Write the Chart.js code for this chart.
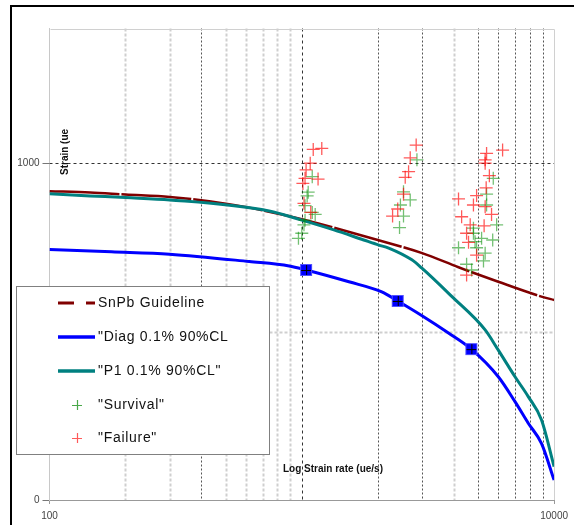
<!DOCTYPE html>
<html>
<head>
<meta charset="utf-8">
<script src="https://cdn.jsdelivr.net/npm/chart.js@4.4.1/dist/chart.umd.min.js"></script>
<style>
  html, body { margin: 0; padding: 0; background: #fff; overflow: hidden; }
  #wrap { position: relative; width: 574px; height: 525px; overflow: hidden; }
  #frame { position: absolute; left: 10px; top: 5px; width: 700px; height: 700px;
           border-left: 2px solid #000; border-top: 2px solid #000; }
  #c { position: absolute; left: 0; top: 0; }
</style>
</head>
<body>
<div id="wrap">
  <div id="frame"></div>
  <canvas id="c" width="574" height="525"></canvas>
</div>
<script>
// ---- values ---------------------------------------------------------------
const xTickLabels = [100, 10000];
const yTickLabels = [0, 1000];

// SnPb guideline (strain rate ue/s, strain ue)
const snpbRate   = [100, 145, 200, 300, 500, 700, 1000, 2000, 3000, 4180, 6010, 8910, 10000];
const snpbStrain = [917, 913, 907, 900, 880, 860, 834, 772, 733, 691, 648, 604, 594];

// Diag 0.1% 90%CL curve and its three marked points
const diagRate     = [100, 176, 299, 619, 891, 1040, 1537, 2075, 2400, 2985, 3814, 4700, 6010, 7000, 7900, 8910, 10000];
const diagStrain   = [744, 737, 730, 708, 695, 683, 648, 618, 591, 548, 496, 448, 366, 292, 228, 168, 59];
const diagMarkRate   = [1040, 2400, 4700];
const diagMarkStrain = [683, 591, 448];

// P1 0.1% 90%CL curve
const p1Rate   = [100, 145, 200, 300, 742, 1000, 1340, 1760, 2020, 2210, 2730, 2985, 3910, 5330, 6010, 7000, 7900, 8910, 10000];
const p1Strain = [909, 903, 898, 891, 858, 831, 802, 772, 757, 748, 713, 689, 606, 505, 445, 366, 307, 238, 99];

// Test results
const survivalRate = [1100, 1060, 1050, 1030, 1100, 1130, 1030, 1020, 1000, 970,
                      2860, 2530, 2690, 2460, 2530, 2440,
                      5740, 5400, 5400, 5920, 4790, 4790, 5160, 5710, 4180, 4860, 4930, 5330, 5250, 4500, 4710];
const survivalStrain = [960, 914, 903, 874, 854, 848, 831, 817, 792, 777,
                        1010, 915, 891, 876, 843, 809,
                        955, 908, 876, 817, 807, 792, 777, 772, 749, 767, 749, 733, 710, 700, 683];

const failureRate = [1110, 1200, 1080, 1040, 1030, 1160, 1010, 1020, 1085,
                     2840, 2690, 2650, 2570, 2530, 2400, 2290,
                     6250, 5400, 5330, 5330, 5540, 5380, 4930, 4180, 4790, 5330, 5650, 4300, 4650, 5280, 4500, 4580, 4930, 4500];
const failureStrain = [1041, 1044, 1000, 980, 955, 953, 940, 881, 854,
                       1054, 1016, 975, 958, 908, 864, 843,
                       1039, 1029, 1010, 1000, 963, 927, 904, 894, 876, 871, 848, 841, 817, 814, 792, 765, 727, 668];

// ---- styling ---------------------------------------------------------------
const FONT = '"Liberation Sans", Arial, sans-serif';
const COLORS = {
  snpb: '#800000',
  diag: '#0000ff',
  p1: '#008080',
  survival: 'rgba(0,140,0,0.55)',
  failure: 'rgba(255,0,0,0.65)'
};

const pts = (xs, ys) => xs.map((x, i) => ({ x: x, y: ys[i] }));

// square marker with a thin black cross, used for the Diag points
function squareMarker() {
  const c = document.createElement('canvas');
  c.width = 14; c.height = 14;
  const g = c.getContext('2d');
  g.fillStyle = '#0000ff';
  g.fillRect(1, 1, 12, 12);
  g.strokeStyle = 'rgba(90,90,255,0.9)';
  g.lineWidth = 1;
  g.strokeRect(1.5, 1.5, 11, 11);
  g.strokeStyle = '#000';
  g.beginPath();
  g.moveTo(2, 7.5); g.lineTo(12, 7.5);
  g.moveTo(7.5, 2); g.lineTo(7.5, 12);
  g.stroke();
  return c;
}

// gridlines inside the plot
const LIGHT_X = [200, 300, 500, 600, 700, 800, 900, 4000];
const plotGrid = {
  id: 'plotGrid',
  beforeDatasetsDraw(chart) {
    const { ctx, chartArea: a, scales: { x, y } } = chart;
    ctx.save();
    // x gridlines at every log step
    for (let d = 100; d < 10000; d *= 10) {
      for (let m = 2; m <= 10; m++) {
        const v = d * m;
        if (v >= 10000) continue;
        const px = Math.round(x.getPixelForValue(v)) + 0.5;
        ctx.beginPath();
        if (v === 1000) {
          ctx.strokeStyle = '#333'; ctx.lineWidth = 1; ctx.setLineDash([3, 3]);
        } else if (LIGHT_X.includes(v)) {
          ctx.strokeStyle = '#cfcfcf'; ctx.lineWidth = 2; ctx.setLineDash([3, 2]);
        } else {
          ctx.strokeStyle = '#555'; ctx.lineWidth = 1; ctx.setLineDash([2, 2]);
        }
        ctx.moveTo(px, a.top); ctx.lineTo(px, a.bottom);
        ctx.stroke();
      }
    }
    // y gridlines
    let py = Math.round(y.getPixelForValue(1000)) + 0.5;
    ctx.strokeStyle = '#333'; ctx.lineWidth = 1; ctx.setLineDash([3, 3]);
    ctx.beginPath(); ctx.moveTo(a.left, py); ctx.lineTo(a.right, py); ctx.stroke();
    py = Math.round(y.getPixelForValue(500)) + 0.5;
    ctx.strokeStyle = '#cfcfcf'; ctx.lineWidth = 2; ctx.setLineDash([3, 2]);
    ctx.beginPath(); ctx.moveTo(a.left, py); ctx.lineTo(a.right, py); ctx.stroke();
    // light frame on top and right
    ctx.setLineDash([]);
    ctx.strokeStyle = '#d0d0d0'; ctx.lineWidth = 1;
    ctx.beginPath();
    ctx.moveTo(Math.round(a.left) + 0.5, Math.round(a.top) + 0.5);
    ctx.lineTo(Math.round(a.right) + 0.5, Math.round(a.top) + 0.5);
    ctx.lineTo(Math.round(a.right) + 0.5, Math.round(a.bottom));
    ctx.stroke();
    ctx.restore();
  }
};

// boxed legend and in-plot axis titles
const legendItems = [
  { text: 'SnPb Guideline',    kind: 'line', color: COLORS.snpb, dash: [16, 12], width: 3 },
  { text: '"Diag 0.1% 90%CL',  kind: 'line', color: COLORS.diag, dash: [], width: 3.5 },
  { text: '"P1 0.1% 90%CL"',   kind: 'line', color: COLORS.p1,   dash: [], width: 3.5 },
  { text: '"Survival"',        kind: 'cross', color: '#4aa84a' },
  { text: '"Failure"',         kind: 'cross', color: '#ff5a5a' }
];
const overlay = {
  id: 'overlay',
  afterDatasetsDraw(chart) {
    const ctx = chart.ctx;
    ctx.save();
    // legend box
    ctx.fillStyle = '#fff';
    ctx.fillRect(16, 286, 253, 168);
    ctx.strokeStyle = '#808080'; ctx.lineWidth = 1;
    ctx.strokeRect(16.5, 286.5, 253, 168);
    const rows = [303, 337, 371, 405, 438];
    legendItems.forEach((it, i) => {
      const yy = rows[i];
      if (it.kind === 'line') {
        ctx.strokeStyle = it.color; ctx.lineWidth = it.width; ctx.setLineDash(it.dash);
        ctx.beginPath(); ctx.moveTo(58, yy); ctx.lineTo(95, yy); ctx.stroke();
        ctx.setLineDash([]);
      } else {
        ctx.strokeStyle = it.color; ctx.lineWidth = 1.2;
        ctx.beginPath();
        ctx.moveTo(72, yy + 0.5); ctx.lineTo(82, yy + 0.5);
        ctx.moveTo(77.5, yy - 5); ctx.lineTo(77.5, yy + 5);
        ctx.stroke();
      }
      ctx.fillStyle = '#111';
      ctx.font = '14px ' + FONT;
      ctx.letterSpacing = '0.7px';
      ctx.textBaseline = 'middle';
      ctx.textAlign = 'left';
      ctx.fillText(it.text, 98, yy + 0.5);
    });
    ctx.letterSpacing = '0px';
    // axis titles
    ctx.fillStyle = '#111';
    ctx.font = 'bold 10px ' + FONT;
    ctx.textAlign = 'center';
    ctx.textBaseline = 'middle';
    ctx.fillText('Log Strain rate (ue/s)', 333, 469);
    ctx.translate(65, 175);
    ctx.rotate(-Math.PI / 2);
    ctx.textAlign = 'left';
    ctx.fillText('Strain (ue', 0, 0);
    ctx.restore();
  }
};

const chart = new Chart(document.getElementById('c'), {
  type: 'line',
  data: {
    datasets: [
      { label: 'SnPb Guideline', data: pts(snpbRate, snpbStrain), borderColor: COLORS.snpb,
        borderWidth: 2.5, borderDash: [70, 2], pointRadius: 0, cubicInterpolationMode: 'monotone', order: 5 },
      { label: '"Diag 0.1% 90%CL', data: pts(diagRate, diagStrain), borderColor: COLORS.diag,
        borderWidth: 3, pointRadius: 0, cubicInterpolationMode: 'monotone', order: 4 },
      { label: '"P1 0.1% 90%CL"', data: pts(p1Rate, p1Strain), borderColor: COLORS.p1,
        borderWidth: 3, pointRadius: 0, cubicInterpolationMode: 'monotone', order: 3 },
      { label: 'Diag points', data: pts(diagMarkRate, diagMarkStrain), showLine: false,
        pointStyle: squareMarker(), pointRadius: 7, order: 2 },
      { label: '"Survival"', data: pts(survivalRate, survivalStrain), showLine: false,
        pointStyle: 'cross', pointRadius: 6.5, borderColor: COLORS.survival, borderWidth: 1.3, order: 1 },
      { label: '"Failure"', data: pts(failureRate, failureStrain), showLine: false,
        pointStyle: 'cross', pointRadius: 6.5, borderColor: COLORS.failure, borderWidth: 1.3, order: 0 }
    ]
  },
  options: {
    responsive: false,
    animation: false,
    devicePixelRatio: 1,
    layout: { padding: { left: 0, top: 28.5, right: 18, bottom: 0 } },
    plugins: { legend: { display: false }, tooltip: { enabled: false } },
    scales: {
      x: {
        type: 'logarithmic', min: 100, max: 10000,
        afterBuildTicks: s => { s.ticks = xTickLabels.map(v => ({ value: v })); },
        afterFit: s => { s.height = 25; },
        ticks: { callback: v => String(v), color: '#444', font: { size: 10, family: FONT },
                 padding: 6, maxRotation: 0, autoSkip: false },
        grid: { drawOnChartArea: false, drawTicks: true, tickLength: 4, tickColor: '#999' },
        border: { color: '#999', width: 1 }
      },
      y: {
        type: 'linear', min: 0, max: 1400,
        afterBuildTicks: s => { s.ticks = yTickLabels.map(v => ({ value: v })); },
        afterFit: s => { s.width = 49.5; },
        ticks: { callback: v => String(v), color: '#444', font: { size: 10, family: FONT }, padding: 3 },
        grid: { drawOnChartArea: false, drawTicks: true, tickLength: 7, tickColor: '#777' },
        border: { color: '#c8c8c8', width: 1 }
      }
    }
  },
  plugins: [plotGrid, overlay]
});
</script>
</body>
</html>
